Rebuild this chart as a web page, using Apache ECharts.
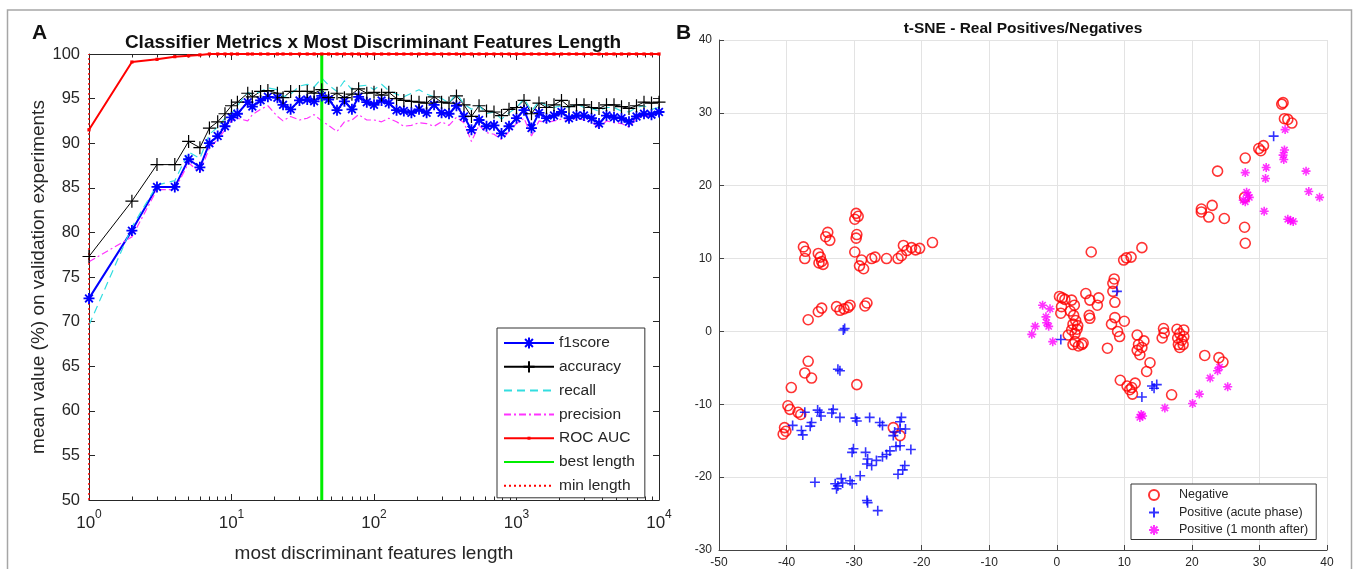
<!DOCTYPE html>
<html>
<head>
<meta charset="utf-8">
<script src="https://cdn.jsdelivr.net/npm/echarts@6/dist/echarts.min.js"></script>
<style>
html, body { margin: 0; padding: 0; background: #fff; }
#chart { width: 1356px; height: 569px; }
</style>
</head>
<body>
<div id="chart"></div>
<script>
// ---- panel A: number of features kept vs mean metric (%) ----
const featureLengths = [1, 2, 3, 4, 5, 6, 7, 8, 9,
  10, 11, 13, 14, 16, 18, 21, 23, 26, 30, 34, 38, 43, 48, 55, 62, 70, 78, 89, 100,
  113, 127, 144, 162, 183, 207, 234, 264, 298, 336, 379, 428, 483, 546, 616, 695, 785, 886, 1000,
  1129, 1274, 1438, 1624, 1833, 2069, 2336, 2637, 2976, 3360, 3793, 4281, 4833, 5456, 6158, 6952, 7848, 8859, 10000];
const f1score = [72.6, 80.2, 85.1, 85.1, 88.2, 87.3, 90.0, 90.8, 91.9,
  92.9, 93.3, 94.6, 94.1, 94.8, 95.2, 95.1, 94.3, 93.8, 94.8, 94.9, 94.7, 95.3, 94.9, 93.7, 94.7, 93.8, 95.2, 94.6, 94.3,
  94.8, 94.5, 93.7, 93.6, 93.4, 93.8, 93.4, 94.3, 93.4, 93.3, 94.2, 93.0, 91.5, 92.6, 91.9, 92.0, 91.1, 91.9, 92.8,
  93.7, 91.7, 93.4, 92.8, 93.1, 93.5, 92.8, 93.1, 93.1, 92.8, 92.2, 93.1, 92.9, 92.8, 92.4, 93.0, 93.3, 93.2, 93.5];
const accuracy = [77.3, 83.5, 87.6, 87.6, 90.2, 89.5, 91.7, 92.4, 93.3,
  94.2, 94.6, 95.6, 95.2, 95.8, 95.9, 95.6, 95.1, 95.8, 95.8, 95.8, 95.6, 96.0, 95.1, 95.6, 95.1, 95.5, 96.1, 95.6, 95.7,
  95.4, 95.7, 95.0, 94.8, 94.7, 94.6, 94.5, 95.2, 94.6, 94.5, 95.3, 94.3, 93.0, 94.2, 93.6, 93.5, 93.1, 93.8, 94.0,
  94.8, 93.3, 94.5, 94.0, 94.3, 94.8, 94.1, 94.3, 94.3, 94.0, 93.9, 94.3, 94.3, 94.1, 93.9, 94.2, 94.6, 94.5, 94.6];
const recall = [69.6, 80.6, 85.3, 85.8, 89.0, 88.3, 91.0, 91.8, 92.8,
  93.3, 94.2, 95.7, 95.5, 95.8, 96.2, 96.0, 95.2, 95.5, 96.4, 96.6, 96.3, 97.3, 96.5, 95.8, 97.0, 96.0, 96.4, 96.5, 96.0,
  96.6, 95.9, 95.5, 95.2, 95.6, 96.0, 95.5, 95.2, 95.0, 94.5, 95.6, 94.4, 93.8, 94.2, 93.3, 93.5, 92.7, 93.4, 94.0,
  95.0, 93.6, 94.7, 94.2, 94.0, 94.2, 94.0, 94.4, 94.0, 93.9, 93.6, 94.0, 94.0, 93.6, 93.5, 94.0, 94.2, 93.8, 94.0];
const precision = [76.7, 79.5, 84.8, 84.8, 87.8, 86.7, 89.5, 90.4, 91.5,
  92.5, 92.8, 92.5, 93.2, 93.8, 94.2, 93.0, 92.5, 93.0, 92.6, 92.8, 93.2, 92.5, 92.0, 91.3, 92.4, 92.6, 93.2, 92.6, 92.6,
  92.4, 92.8, 92.4, 91.9, 92.0, 92.3, 92.2, 91.9, 92.4, 92.0, 92.9, 92.3, 90.2, 92.0, 91.2, 91.0, 90.4, 91.3, 92.2,
  92.8, 90.8, 92.5, 92.3, 92.5, 92.7, 92.5, 92.8, 92.6, 92.4, 91.7, 92.5, 92.3, 92.2, 91.8, 92.8, 93.0, 93.2, 93.4];
const rocAuc = [91.5, 99.1, 99.4, 99.7, 99.8, 99.9, 100, 100, 100,
  100, 100, 100, 100, 100, 100, 100, 100, 100, 100, 100, 100, 100, 100, 100, 100, 100, 100, 100, 100,
  100, 100, 100, 100, 100, 100, 100, 100, 100, 100, 100, 100, 100, 100, 100, 100, 100, 100, 100,
  100, 100, 100, 100, 100, 100, 100, 100, 100, 100, 100, 100, 100, 100, 100, 100, 100, 100, 100];
const bestLength = 43;
const minLength = 1;

// ---- panel B: t-SNE embedding, [x, y] ----
const negative = [
  [-33.9, 13.6], [-34.2, 13.0], [-33.6, 12.5], [-29.7, 16.2], [-29.4, 15.8], [-29.9, 15.4], [-29.6, 13.3], [-29.7, 12.8],
  [-37.5, 11.6], [-37.2, 11.0], [-37.3, 10.0], [-35.3, 10.7], [-35.0, 10.2], [-34.8, 9.6], [-34.6, 9.2], [-35.2, 9.4],
  [-29.9, 10.9], [-28.9, 9.8], [-28.6, 8.6], [-29.2, 9.0], [-27.4, 10.0], [-26.9, 10.2], [-25.2, 10.0], [-23.5, 10.0],
  [-23.0, 10.4], [-22.7, 11.8], [-22.2, 11.1], [-21.5, 11.5], [-20.9, 11.2], [-20.3, 11.4], [-18.4, 12.2],
  [-36.8, 1.6], [-35.3, 2.7], [-34.8, 3.2], [-32.6, 3.4], [-32.1, 2.9], [-31.5, 3.1], [-30.9, 3.3], [-30.6, 3.6],
  [-28.1, 3.9], [-28.4, 3.5],
  [-36.8, -4.1], [-37.3, -5.7], [-36.3, -6.4], [-39.3, -7.7], [-29.6, -7.3], [-39.8, -10.2], [-39.5, -10.7],
  [-38.3, -11.1], [-37.9, -11.4], [-40.3, -13.2], [-40.5, -14.1], [-40.1, -13.7], [-24.2, -13.2], [-23.2, -14.3],
  [5.1, 10.9], [9.9, 9.8], [10.3, 10.1], [11.0, 10.2], [12.6, 11.5], [8.5, 7.2], [8.3, 6.6], [8.3, 5.5], [8.6, 4.0],
  [0.4, 4.8], [0.8, 4.6], [1.2, 4.4], [2.2, 4.3], [0.7, 3.4], [2.6, 3.6], [4.3, 5.2], [4.9, 4.3], [6.2, 4.6], [6.0, 3.6],
  [4.8, 2.2], [4.9, 1.8], [0.6, 2.5], [2.0, 2.8], [2.5, 2.2], [2.8, 1.5], [3.1, 0.8], [2.2, 0.2], [2.7, -0.3], [3.0, 0.3],
  [2.4, 1.0], [1.7, -0.5], [2.7, -1.4], [3.7, -1.8], [2.4, -1.8], [3.2, -2.0], [3.9, -1.6],
  [8.1, 1.0], [8.6, 1.9], [10.0, 1.4], [9.0, 0.0], [9.3, -0.7], [7.5, -2.3],
  [11.9, -0.5], [12.1, -1.8], [12.6, -2.2], [12.3, -3.2], [11.9, -2.6], [12.9, -1.3], [13.8, -4.3], [13.3, -5.5],
  [15.8, 0.4], [15.6, -0.9], [15.9, -0.2], [17.8, 0.3], [18.2, -0.3], [18.8, 0.2], [17.9, -0.9], [18.5, -1.2],
  [18.0, -1.8], [18.7, -1.8], [18.2, -2.2], [18.8, -0.7], [21.9, -3.3], [24.0, -3.6], [24.6, -4.2], [17.0, -8.7],
  [9.4, -6.7], [10.4, -7.5], [11.1, -7.7], [11.6, -7.1], [11.2, -8.6], [10.8, -8.0],
  [33.5, 31.4], [33.3, 31.2], [33.7, 29.2], [34.2, 29.1], [34.8, 28.6], [29.9, 25.1], [30.6, 25.5], [30.2, 24.8],
  [27.9, 23.8], [23.8, 22.0], [21.4, 16.8], [21.4, 16.4], [23.0, 17.3], [22.5, 15.7], [24.8, 15.5], [27.8, 14.3],
  [27.9, 12.1], [27.8, 18.4]
];
const positiveAcute = [
  [-31.4, 0.4], [-31.6, 0.2], [-32.4, -5.2], [-32.1, -5.4], [-37.3, -11.1], [-39.1, -12.9], [-37.8, -13.6], [-37.6, -14.2],
  [-36.3, -12.5], [-36.5, -13.0], [-35.1, -11.1], [-34.9, -11.6], [-35.4, -10.8], [-33.1, -10.7], [-33.3, -11.2],
  [-32.1, -11.8], [-29.6, -12.3], [-29.8, -11.9], [-27.7, -11.8], [-26.2, -12.5], [-25.8, -12.9], [-23.0, -11.8],
  [-23.2, -12.4], [-23.2, -13.4], [-22.4, -13.4], [-24.2, -14.3], [-24.0, -13.8], [-30.1, -16.1], [-30.3, -16.6],
  [-28.3, -16.6], [-28.1, -18.2], [-28.0, -17.5], [-27.4, -18.4], [-26.7, -17.7], [-25.8, -17.2], [-25.2, -16.9],
  [-24.7, -16.4], [-23.8, -15.8], [-23.2, -15.7], [-21.6, -16.2], [-22.5, -18.4], [-22.8, -19.0], [-23.5, -19.6],
  [-35.8, -20.7], [-32.8, -20.9], [-32.6, -21.6], [-32.4, -21.2], [-31.9, -20.2], [-31.7, -20.8], [-30.6, -20.5],
  [-30.3, -20.9], [-29.1, -19.8], [-28.1, -23.2], [-28.0, -23.5], [-26.5, -24.6],
  [32.1, 26.8], [8.9, 5.5], [0.6, -1.1], [14.1, -7.5], [14.8, -7.3], [14.4, -7.8], [12.6, -9.0]
];
const positiveMonth = [
  [33.8, 27.7], [33.7, 24.9], [33.6, 23.6], [33.5, 24.2], [27.9, 21.8], [31.0, 22.5], [30.9, 21.0], [36.9, 22.0],
  [28.1, 19.1], [28.5, 18.4], [27.6, 18.0], [28.3, 18.7], [27.9, 17.8], [30.7, 16.5], [37.3, 19.2], [38.9, 18.4],
  [34.2, 15.4], [35.0, 15.1], [34.6, 15.2],
  [-2.1, 3.6], [-1.0, 3.1], [-1.6, 2.0], [-3.2, 0.7], [-3.7, -0.4], [-1.2, 0.7], [-1.5, 1.2], [-0.6, -1.4],
  [24.1, -4.9], [23.8, -5.4], [22.7, -6.4], [25.3, -7.6], [21.1, -8.6], [20.1, -9.9], [16.0, -10.5],
  [12.5, -11.4], [12.3, -11.8], [12.7, -11.6]
];

const chart = echarts.init(document.getElementById('chart'));
const font = "'Liberation Sans', Arial, sans-serif";
const ink = '#262626';
const asterisk = 'path://M0,-5L0,5M-5,0L5,0M-3.5,-3.5L3.5,3.5M-3.5,3.5L3.5,-3.5';
const plus = 'path://M0,-5L0,5M-5,0L5,0';
// small dot inside a larger (empty) box so the legend shows a tiny marker too
const dot = 'path://M-6,-6M6,6M-1.6,-1.6L1.6,-1.6L1.6,1.6L-1.6,1.6Z';

function pairs(vals) { return featureLengths.map((x, i) => [x, vals[i]]); }

// log minor ticks 2..9 in each decade
const minorTicks = [];
for (let d = 1; d < 10000; d *= 10) for (let k = 2; k <= 9; k++) minorTicks.push(k * d);

const logAxis = { type: 'log', logBase: 10, min: 1, max: 10000, gridIndex: 0, splitLine: { show: false } };
const tickStyle = { lineStyle: { color: ink, width: 1 } };
// lines without markers: keep legend icon as a plain line
const noMark = { symbol: 'circle', showSymbol: false, itemStyle: { color: 'transparent', borderWidth: 0 } };

const option = {
  animation: false,
  textStyle: { fontFamily: font },
  graphic: [
    { type: 'rect', shape: { x: 7.5, y: 10, width: 1344, height: 580 }, style: { fill: 'none', stroke: '#a6a6a6', lineWidth: 1.5 } },
    { type: 'text', left: 32, top: 23, style: { text: 'A', font: 'bold 21px ' + font, fill: '#111' } },
    { type: 'text', left: 676, top: 23, style: { text: 'B', font: 'bold 21px ' + font, fill: '#111' } }
  ],
  title: [
    { text: 'Classifier Metrics x Most Discriminant Features Length', left: 368, textAlign: 'center', top: 28,
      textStyle: { fontSize: 19, fontWeight: 'bold', color: '#111', fontFamily: font } },
    { text: 't-SNE - Real Positives/Negatives', left: 1018, textAlign: 'center', top: 16,
      textStyle: { fontSize: 15.5, fontWeight: 'bold', color: '#111', fontFamily: font } }
  ],
  grid: [
    { left: 89, top: 54, width: 570, height: 446 },
    { left: 719, top: 40, width: 608, height: 513 }
  ],
  xAxis: [
    Object.assign({}, logAxis, {
      position: 'bottom',
      axisLine: { lineStyle: { color: ink } },
      axisTick: Object.assign({ inside: true, length: 6 }, tickStyle),
      axisLabel: {
        margin: 9,
        formatter: v => '{b|10}{s|' + Math.round(Math.log10(v)) + '}',
        rich: {
          b: { fontSize: 17, color: ink, fontFamily: font, verticalAlign: 'bottom', lineHeight: 23 },
          s: { fontSize: 12, color: ink, fontFamily: font, verticalAlign: 'top', lineHeight: 23 }
        }
      },
      name: 'most discriminant features length', nameLocation: 'middle', nameGap: 44,
      nameTextStyle: { fontSize: 19, color: ink, fontFamily: font }
    }),
    Object.assign({}, logAxis, {
      position: 'bottom', axisLine: { show: false }, axisLabel: { show: false },
      axisTick: Object.assign({ inside: true, length: 3.5, customValues: minorTicks }, tickStyle)
    }),
    Object.assign({}, logAxis, {
      position: 'top', axisLine: { lineStyle: { color: ink } }, axisLabel: { show: false },
      axisTick: Object.assign({ inside: true, length: 6 }, tickStyle)
    }),
    Object.assign({}, logAxis, {
      position: 'top', axisLine: { show: false }, axisLabel: { show: false },
      axisTick: Object.assign({ inside: true, length: 3.5, customValues: minorTicks }, tickStyle)
    }),
    {
      type: 'value', gridIndex: 1, min: -50, max: 40, interval: 10, position: 'bottom',
      axisLine: { onZero: false, lineStyle: { color: '#444' } },
      axisTick: { inside: true, length: 5, lineStyle: { color: '#444' } },
      axisLabel: { fontSize: 12, color: ink, margin: 7 },
      splitLine: { show: true, lineStyle: { color: '#e3e3e3', width: 1 } }
    }
  ],
  yAxis: [
    {
      type: 'value', gridIndex: 0, min: 50, max: 100, interval: 5, position: 'left',
      axisLine: { show: true, lineStyle: { color: ink } },
      axisTick: Object.assign({ show: true, inside: true, length: 6 }, tickStyle),
      axisLabel: { fontSize: 16.5, color: ink, margin: 9 },
      splitLine: { show: false },
      name: 'mean value (%) on validation experiments', nameLocation: 'middle', nameGap: 41,
      nameTextStyle: { fontSize: 19, color: ink, fontFamily: font }
    },
    {
      type: 'value', gridIndex: 0, min: 50, max: 100, interval: 5, position: 'right',
      axisLine: { show: true, lineStyle: { color: ink } },
      axisTick: Object.assign({ show: true, inside: true, length: 6 }, tickStyle),
      axisLabel: { show: false }, splitLine: { show: false }
    },
    {
      type: 'value', gridIndex: 1, min: -30, max: 40, interval: 10, position: 'left',
      axisLine: { show: true, onZero: false, lineStyle: { color: '#444' } },
      axisTick: { show: true, inside: true, length: 5, lineStyle: { color: '#444' } },
      axisLabel: { fontSize: 12, color: ink, margin: 7 },
      splitLine: { show: true, lineStyle: { color: '#e3e3e3', width: 1 } }
    }
  ],
  legend: [
    {
      left: 497, top: 328, orient: 'vertical',
      data: ['f1score', 'accuracy', 'recall', 'precision', 'ROC AUC', 'best length', 'min length'],
      itemWidth: 50, itemHeight: 14, itemGap: 7.8, padding: [7, 10, 4, 6],
      borderColor: '#333', borderWidth: 1, backgroundColor: '#fff',
      textStyle: { fontSize: 15.5, color: ink, fontFamily: font, lineHeight: 14 }
    },
    {
      left: 1131, top: 484, orient: 'vertical',
      data: ['Negative', 'Positive (acute phase)', 'Positive (1 month after)'],
      itemWidth: 14, itemHeight: 10, itemGap: 4.5, padding: [4.5, 8, 3, 17],
      borderColor: '#333', borderWidth: 1, backgroundColor: '#fff',
      textStyle: { fontSize: 12.5, color: ink, fontFamily: font, lineHeight: 13, padding: [0, 0, 0, 13] }
    }
  ],
  series: [
    { name: 'f1score', type: 'line', data: pairs(f1score), symbol: asterisk, symbolSize: 11,
      color: '#0000ff', lineStyle: { color: '#0000ff', width: 2 },
      itemStyle: { color: 'transparent', borderColor: '#0000ff', borderWidth: 1.8 } },
    { name: 'accuracy', type: 'line', data: pairs(accuracy), symbol: plus, symbolSize: 13,
      color: '#000', lineStyle: { color: '#000', width: 1 },
      itemStyle: { color: 'transparent', borderColor: '#000', borderWidth: 1.2 } },
    Object.assign({ name: 'recall', type: 'line', data: pairs(recall),
      lineStyle: { color: '#33dde0', width: 1.2, type: [8, 5] } }, noMark),
    Object.assign({ name: 'precision', type: 'line', data: pairs(precision),
      lineStyle: { color: '#ff33ff', width: 1.2, type: [7, 3, 2, 3] } }, noMark),
    { name: 'ROC AUC', type: 'line', data: pairs(rocAuc), symbol: dot, symbolSize: 12,
      lineStyle: { color: '#ff0000', width: 2 }, itemStyle: { color: '#ff0000', borderWidth: 0 } },
    Object.assign({ name: 'best length', type: 'line', data: [[bestLength, 50], [bestLength, 100]],
      lineStyle: { color: '#00ee00', width: 3 } }, noMark),
    Object.assign({ name: 'min length', type: 'line', data: [[minLength, 50], [minLength, 100]],
      lineStyle: { color: '#ff0000', width: 1.5, type: [2, 3] } }, noMark),
    { name: 'Negative', type: 'scatter', xAxisIndex: 4, yAxisIndex: 2, data: negative,
      symbol: 'circle', symbolSize: 10,
      itemStyle: { color: 'transparent', borderColor: '#ff0000', borderWidth: 1.6 } },
    { name: 'Positive (acute phase)', type: 'scatter', xAxisIndex: 4, yAxisIndex: 2, data: positiveAcute,
      symbol: plus, symbolSize: 10,
      itemStyle: { color: 'transparent', borderColor: '#0000ff', borderWidth: 1.6 } },
    { name: 'Positive (1 month after)', type: 'scatter', xAxisIndex: 4, yAxisIndex: 2, data: positiveMonth,
      symbol: asterisk, symbolSize: 9,
      itemStyle: { color: 'transparent', borderColor: '#ff00ff', borderWidth: 1.6 } }
  ]
};

chart.setOption(option);
</script>
</body>
</html>
